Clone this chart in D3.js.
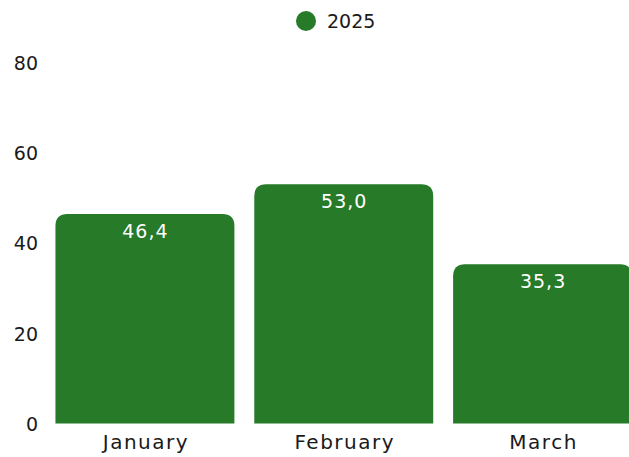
<!DOCTYPE html>
<html>
<head>
<meta charset="utf-8">
<script src="https://cdn.jsdelivr.net/npm/d3@7"></script>
<style>
  body { margin: 0; background: #fff; }
  svg { display: block; font-family: "DejaVu Sans", sans-serif; }
</style>
</head>
<body>
<script>
var width = 629,
    height = 457;

// data
var months = ["January", "February", "March"];
var values2025 = [46.4, 53.0, 35.3];
var seriesName = "2025";
var yTicks = [0, 20, 40, 60, 80];

var barColor = "#267a28";
var textColor = "#1a1a1a";
var font = "'DejaVu Sans', sans-serif";

var svg = d3.select("body").append("svg")
    .attr("width", width)
    .attr("height", height);

var x = d3.scaleBand()
    .domain(months)
    .range([45.5, 642])
    .paddingInner(0.1)
    .paddingOuter(0.05);

var y = d3.scaleLinear()
    .domain([0, 80])
    .range([423.5, 62.5]);

// rounded top corners only
function barPath(x0, y0, w, h, r) {
  r = Math.min(r, h, w / 2);
  return "M" + x0 + "," + (y0 + h) +
    "V" + (y0 + r) +
    "Q" + x0 + "," + y0 + " " + (x0 + r) + "," + y0 +
    "H" + (x0 + w - r) +
    "Q" + (x0 + w) + "," + y0 + " " + (x0 + w) + "," + (y0 + r) +
    "V" + (y0 + h) + "Z";
}

var data = months.map(function(m, i) { return {month: m, value: values2025[i]}; });

svg.append("g")
  .selectAll("path")
  .data(data)
  .enter().append("path")
  .attr("fill", barColor)
  .attr("d", function(d) {
    return barPath(x(d.month), y(d.value), x.bandwidth(), y(0) - y(d.value), 12);
  });

// value labels
svg.append("g")
  .selectAll("text")
  .data(data)
  .enter().append("text")
  .attr("x", function(d) { return x(d.month) + x.bandwidth() / 2 + 0.5; })
  .attr("y", function(d) { return y(d.value) + 24; })
  .attr("text-anchor", "middle")
  .attr("fill", "#fff")
  .style("font-size", "19px")
  .style("letter-spacing", "1px")
  .text(function(d) { return d3.format(".1f")(d.value).replace(".", ","); });

// y axis labels
var yAxis = d3.axisLeft(y).tickValues(yTicks).tickSize(0).tickPadding(0);
var gy = svg.append("g")
  .attr("transform", "translate(38,0)")
  .call(yAxis);
gy.select(".domain").remove();
gy.selectAll("text")
  .attr("fill", textColor)
  .attr("dy", "0.36em")
  .style("font-size", "19px")
  .style("font-family", font);

// x axis labels
var xAxis = d3.axisBottom(x).tickSize(0).tickPadding(0);
var gx = svg.append("g")
  .attr("transform", "translate(0,435)")
  .call(xAxis);
gx.select(".domain").remove();
gx.selectAll("text")
  .attr("fill", textColor)
  .attr("dy", "0.71em")
  .attr("dx", "1px")
  .style("font-size", "20px")
  .style("letter-spacing", "1.5px")
  .style("font-family", font);

// legend
var legend = svg.append("g");
legend.append("circle")
  .attr("cx", 306)
  .attr("cy", 21)
  .attr("r", 10)
  .attr("fill", barColor);
legend.append("text")
  .attr("x", 327)
  .attr("y", 21)
  .attr("dy", "0.36em")
  .attr("fill", textColor)
  .style("font-size", "19px")
  .text(seriesName);
</script>
</body>
</html>
